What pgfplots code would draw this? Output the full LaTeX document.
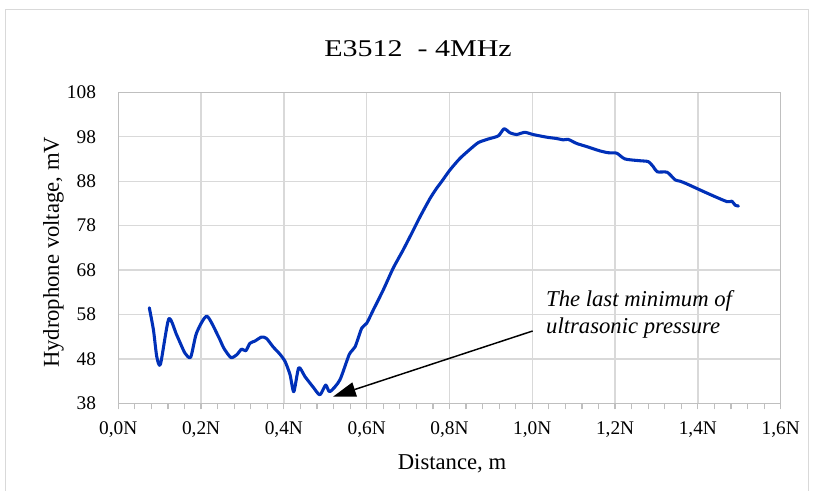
\documentclass[border=0pt]{standalone}
\usepackage{fontspec}
\setmainfont{Liberation Serif}
\usepackage{graphicx}
\usepackage{pgfplots}
\pgfplotsset{compat=1.18}
\usetikzlibrary{arrows.meta}
\definecolor{lineblue}{RGB}{0,48,184}
\definecolor{gridgray}{RGB}{217,217,217}
\definecolor{axisgray}{RGB}{191,191,191}
\begin{document}
\begin{tikzpicture}
\useasboundingbox (0,0) rectangle (610.5pt,368.25pt);
\draw[gridgray, line width=0.75pt] (3.75pt,-5pt) rectangle (606pt,360.75pt);
\begin{axis}[
  at={(88.7pt,65.8pt)}, anchor=south west,
  scale only axis, width=496.8pt, height=233.2pt,
  xmin=0, xmax=1.6, ymin=38, ymax=108,
  xtick={0,0.2,0.4,0.6,0.8,1.0,1.2,1.4,1.6},
  xticklabels={{0,0N},{0,2N},{0,4N},{0,6N},{0,8N},{1,0N},{1,2N},{1,4N},{1,6N}},
  minor x tick num=4,
  ytick={38,48,58,68,78,88,98,108},
  grid=major,
  major grid style={gridgray, line width=1pt},
  axis line style={axisgray, line width=1pt},
  xtick pos=bottom, tick align=outside,
  major tick length=4.5pt, minor tick length=4.5pt,
  x tick style={axisgray, line width=0.9pt},
  ytick style={draw=none},
  tick label style={font=\fontsize{14.5}{17}\selectfont},
  xticklabel style={yshift=-6pt},
  yticklabel style={xshift=-8.7pt},
  /pgf/number format/assume math mode=true,
  clip=false,
]
\addplot[color=lineblue, line width=2.3pt, smooth, tension=0.4, line join=round, line cap=round] coordinates {
(0.075,59.5) (0.085,54.5) (0.093,48.5) (0.102,46.8) (0.122,57.0) (0.141,53.4)
(0.161,49.3) (0.175,48.4) (0.189,53.8) (0.214,57.6) (0.242,53.0) (0.255,50.4)
(0.272,48.3) (0.286,48.9) (0.298,50.2) (0.308,49.8) (0.318,51.5) (0.330,52.0)
(0.346,52.9) (0.358,52.6) (0.374,50.7) (0.390,49.1) (0.403,47.4) (0.415,44.4)
(0.424,40.6) (0.436,46.0) (0.451,44.0) (0.471,41.6) (0.487,39.9) (0.501,42.1)
(0.511,40.6) (0.535,43.2) (0.558,49.0) (0.572,50.7) (0.588,54.9) (0.600,56.0)
(0.616,59.0) (0.640,63.5) (0.664,68.4) (0.688,72.5) (0.709,76.3) (0.729,80.0)
(0.753,84.1) (0.769,86.4) (0.781,87.9) (0.801,90.5) (0.825,93.1) (0.850,95.2)
(0.870,96.7) (0.894,97.5) (0.918,98.2) (0.932,99.8) (0.946,98.9) (0.962,98.5)
(0.982,99.0) (1.002,98.5) (1.035,97.9) (1.059,97.6) (1.075,97.3) (1.087,97.4)
(1.107,96.5) (1.131,95.8) (1.164,94.8) (1.184,94.4) (1.204,94.3) (1.224,93.0)
(1.260,92.6) (1.280,92.4) (1.292,91.3) (1.302,90.1) (1.326,90.0) (1.345,88.3)
(1.357,88.0) (1.373,87.4) (1.420,85.4) (1.470,83.4) (1.482,83.5) (1.490,82.6)
(1.498,82.4)
};
\draw[-{Triangle[length=17pt,width=11pt]}, line width=1.1pt] (axis cs:1.001,54.27) -- (axis cs:0.519,39.5);
\node[anchor=base west, inner sep=0pt, font=\fontsize{17}{20}\selectfont\itshape] at (axis cs:1.033,59.74) {The last minimum of};
\node[anchor=base west, inner sep=0pt, font=\fontsize{17}{20}\selectfont\itshape] at (axis cs:1.033,53.6) {ultrasonic pressure};
\end{axis}
\node[font=\fontsize{18}{21}\selectfont] at (313.5pt,331.5pt) {\scalebox{1.25}[1]{E3512\ \ - 4MHz}};
\node[anchor=base, font=\fontsize{17}{20}\selectfont] at (339pt,15.75pt) {Distance, m};
\node[rotate=90, font=\fontsize{17}{20}\selectfont] at (40pt,178.9pt) {Hydrophone voltage, mV};
\end{tikzpicture}
\end{document}
